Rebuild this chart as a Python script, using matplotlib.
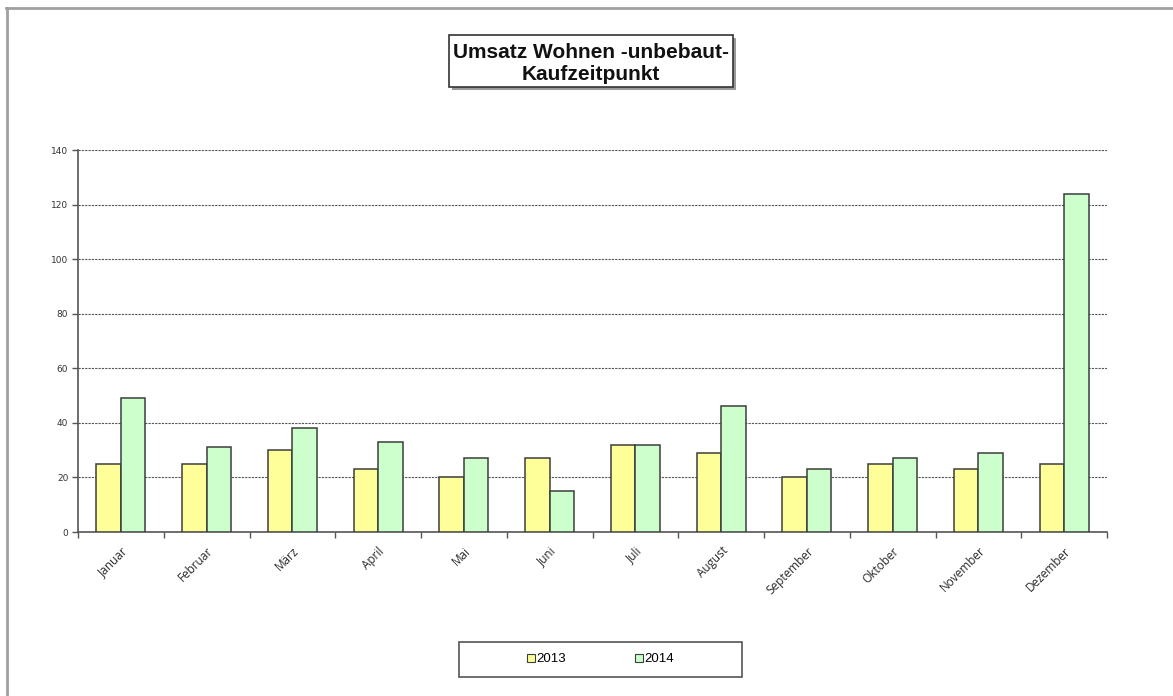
import matplotlib.pyplot as plt
import numpy as np
from matplotlib.patches import Rectangle
from matplotlib.lines import Line2D

OUTPUT_PNG = "out.png"

MONTHS = ["Januar", "Februar", "März", "April", "Mai", "Juni",
          "Juli", "August", "September", "Oktober", "November", "Dezember"]
SALES_2013 = [25, 25, 30, 23, 20, 27, 32, 29, 20, 25, 23, 25]
SALES_2014 = [49, 31, 38, 33, 27, 15, 32, 46, 23, 27, 29, 124]
Y_TICKS = [0, 20, 40, 60, 80, 100, 120, 140]

COLOR_2013 = "#FFFF99"
COLOR_2014 = "#CCFFCC"
EDGE = "#3a3f3a"

W, H = 1173, 696


def fx(px):
    return px / W


def fy(py):
    return 1 - py / H


def main():
    fig = plt.figure(figsize=(W / 100, H / 100), dpi=100)
    fig.patch.set_facecolor("white")

    # thin grey frame on the top and left of the sheet
    fig.add_artist(Line2D([fx(7), fx(7)], [fy(8), -0.1], color="#a0a0a0", lw=2))
    fig.add_artist(Line2D([fx(6), 1.1], [fy(8), fy(8)], color="#a0a0a0", lw=2))

    ax = fig.add_axes([fx(78), fy(532), fx(1107) - fx(78), (532 - 150) / H])

    x = np.arange(len(MONTHS))
    bw = 0.285
    ax.bar(x - bw / 2, SALES_2013, width=bw, color=COLOR_2013,
           edgecolor=EDGE, linewidth=1.1, zorder=3)
    ax.bar(x + bw / 2, SALES_2014, width=bw, color=COLOR_2014,
           edgecolor=EDGE, linewidth=1.1, zorder=3)

    ax.set_xlim(-0.5, len(MONTHS) - 0.5)
    ax.set_ylim(0, 140)
    ax.set_yticks(Y_TICKS)
    ax.set_yticklabels([str(v) for v in Y_TICKS], fontsize=6.5, color="#333333")
    ax.yaxis.grid(True, linestyle=(0, (2, 1)), color="#555555", linewidth=0.8, zorder=0)

    # category ticks sit between the month groups
    ax.set_xticks(np.arange(-0.5, len(MONTHS), 1.0))
    ax.set_xticklabels([])
    ax.set_xticks(x, minor=True)
    ax.set_xticklabels(MONTHS, minor=True, rotation=45, ha="right",
                       rotation_mode="anchor", fontsize=8.5, color="#2a2a2a",
                       family="Open Sans")
    ax.tick_params(axis="x", which="minor", length=0, pad=9)
    ax.tick_params(axis="x", which="major", length=4, width=1, color="#555555",
                   direction="out")
    ax.tick_params(axis="y", length=4, width=1, color="#555555", pad=3)

    for side in ("top", "right"):
        ax.spines[side].set_visible(False)
    for side in ("left", "bottom"):
        ax.spines[side].set_color("#555555")
        ax.spines[side].set_linewidth(1.2)
    ax.set_facecolor("white")

    # title box with drop shadow
    tx0, ty0, tx1, ty1 = 449, 35, 733, 87
    fig.add_artist(Rectangle((fx(tx0 + 3), fy(ty1 + 3)), fx(tx1 - tx0), (ty1 - ty0) / H,
                             facecolor="#9a9a9a", edgecolor="none", zorder=1))
    fig.add_artist(Rectangle((fx(tx0), fy(ty1)), fx(tx1 - tx0), (ty1 - ty0) / H,
                             facecolor="white", edgecolor="#333333", lw=1.2, zorder=2))
    fig.text(fx((tx0 + tx1) / 2), fy((ty0 + ty1) / 2 + 2),
             "Umsatz Wohnen -unbebaut-\nKaufzeitpunkt",
             ha="center", va="center", fontsize=15, fontweight="bold",
             family="Liberation Sans", linespacing=1.2, color="#111111", zorder=3)

    # legend box
    lx0, ly0, lx1, ly1 = 459, 642, 742, 677
    fig.add_artist(Rectangle((fx(lx0), fy(ly1)), fx(lx1 - lx0), (ly1 - ly0) / H,
                             facecolor="white", edgecolor="#555555", lw=1.2, zorder=2))
    handles = [
        Rectangle((0, 0), 1, 1, facecolor=COLOR_2013, edgecolor=EDGE, lw=0.8),
        Rectangle((0, 0), 1, 1, facecolor=COLOR_2014, edgecolor=EDGE, lw=0.8),
    ]
    leg = fig.legend(handles, ["2013", "2014"], loc="center",
                     bbox_to_anchor=(fx((lx0 + lx1) / 2), fy((ly0 + ly1) / 2)),
                     ncol=2, frameon=False, handlelength=0.6, handleheight=0.6,
                     handletextpad=0.15, columnspacing=5.2,
                     prop={"family": "Liberation Sans", "size": 9.5})
    leg.set_zorder(3)

    fig.savefig(OUTPUT_PNG, dpi=100)


if __name__ == "__main__":
    main()
